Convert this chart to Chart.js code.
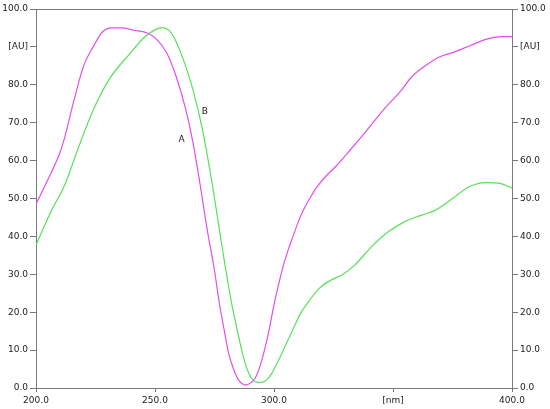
<!DOCTYPE html>
<html>
<head>
<meta charset="utf-8">
<script src="https://cdn.jsdelivr.net/npm/chart.js@4.4.1/dist/chart.umd.min.js"></script>
<style>
    html, body { margin: 0; padding: 0; background: #fff; }
    #wrap { width: 550px; height: 409px; }
</style>
</head>
<body>
<div id="wrap"><canvas id="spectrum"></canvas></div>
<script>
// wavelength [nm] / absorbance [AU]
const waveA = [200, 205, 210, 212, 216, 220, 224, 228, 232, 236, 241, 247, 251, 255, 259, 263, 266, 269, 272, 275, 277, 279, 281, 283, 285, 287, 288.5, 290, 292, 294, 296, 298, 300, 302, 304, 306, 308, 310, 312, 315, 318, 322, 326, 332, 339, 346, 353, 358, 364, 369, 376, 383, 390, 396, 400];
const valuesA = [48.5, 55, 62, 66, 76, 85, 90, 94, 95, 95, 94.4, 93.6, 91.8, 88.3, 82, 73.3, 64.6, 53.5, 41.5, 31, 22.5, 15.5, 9, 5, 2.2, 1.0, 0.8, 1.3, 2.5, 5.5, 10, 15.5, 22, 27.5, 32.5, 36.5, 40, 43.5, 46.5, 50, 53, 56, 58.5, 62.8, 68, 73.4, 78.2, 82.2, 85.2, 87.2, 88.7, 90.5, 92.2, 92.7, 92.7];

const waveB = [200, 206, 212, 218, 224, 231, 239, 246, 250, 253, 256, 258, 262, 266, 270, 274, 278, 282, 285, 287, 289, 291, 293, 295, 297, 299, 302, 305, 308, 311, 315, 319, 324, 329, 334, 341, 348, 355, 362, 368, 375, 382, 389, 395, 400];
const valuesB = [37.7, 46.2, 53.5, 63.7, 73.3, 81.7, 87.9, 92.8, 94.5, 95.1, 94.3, 92.5, 86.5, 78.6, 68, 54, 38, 23, 14, 8.5, 4.5, 2.2, 1.5, 1.5, 2.2, 3.8, 7.4, 11.5, 15.5, 19.5, 23.2, 26.3, 28.5, 30, 32.5, 37.3, 41.2, 43.9, 45.6, 47, 50, 53.1, 54.2, 54, 52.8];

const peakLabels = ['A', 'B'];
const peakLabelX = [261.2, 270.9];
const peakLabelY = [65.4, 72.8];

const xTicks = [200, 250, 300, 350, 400];
const yTicks = [0, 10, 20, 30, 40, 50, 60, 70, 80, 90, 100];

const axisColor = '#7a7a7a';
const textColor = '#1a1a1a';
const fontSpec = { family: 'DejaVu Sans', size: 9 };

function toPoints(xs, ys) {
    return xs.map(function (x, i) { return { x: x, y: ys[i] }; });
}

function yLabel(value) {
    return value === 90 ? '[AU]' : value.toFixed(1);
}

const peakNames = {
    id: 'peakNames',
    afterDatasetsDraw: function (chart) {
        const ctx = chart.ctx;
        ctx.save();
        ctx.fillStyle = textColor;
        ctx.font = '9px "DejaVu Sans"';
        ctx.textAlign = 'center';
        ctx.textBaseline = 'middle';
        peakLabels.forEach(function (name, i) {
            ctx.fillText(name,
                chart.scales.x.getPixelForValue(peakLabelX[i]),
                chart.scales.y.getPixelForValue(peakLabelY[i]));
        });
        ctx.restore();
    }
};

const yAxis = function (position, width) {
    return {
        type: 'linear',
        position: position,
        min: 0,
        max: 100,
        afterBuildTicks: function (scale) {
            scale.ticks = yTicks.map(function (v) { return { value: v }; });
        },
        afterFit: function (scale) { scale.width = width; },
        grid: {
            display: true,
            drawOnChartArea: false,
            drawTicks: true,
            tickLength: 6,
            color: axisColor
        },
        border: { display: true, color: axisColor, width: 1 },
        ticks: {
            color: textColor,
            font: fontSpec,
            padding: 2,
            callback: yLabel
        }
    };
};

new Chart(document.getElementById('spectrum'), {
    type: 'line',
    data: {
        datasets: [
            {
                label: 'A',
                data: toPoints(waveA, valuesA),
                borderColor: '#e050e8',
                borderWidth: 1.2,
                pointRadius: 0,
                cubicInterpolationMode: 'monotone',
                fill: false
            },
            {
                label: 'B',
                data: toPoints(waveB, valuesB),
                borderColor: '#58e058',
                borderWidth: 1.2,
                pointRadius: 0,
                cubicInterpolationMode: 'monotone',
                fill: false
            }
        ]
    },
    options: {
        responsive: true,
        maintainAspectRatio: false,
        animation: false,
        layout: { padding: { top: 9, left: 0, right: 0, bottom: 0 } },
        plugins: {
            legend: { display: false },
            tooltip: { enabled: false }
        },
        scales: {
            x: {
                type: 'linear',
                position: 'bottom',
                min: 200,
                max: 400,
                afterBuildTicks: function (scale) {
                    scale.ticks = xTicks.map(function (v) { return { value: v }; });
                },
                afterFit: function (scale) { scale.height = 21; },
                grid: {
                    display: true,
                    drawOnChartArea: false,
                    drawTicks: true,
                    tickLength: 4,
                    color: axisColor
                },
                border: { display: true, color: axisColor, width: 1 },
                ticks: {
                    color: textColor,
                    font: fontSpec,
                    padding: 3,
                    maxRotation: 0,
                    callback: function (value) {
                        return value === 350 ? '[nm]' : value.toFixed(1);
                    }
                }
            },
            xTop: {
                type: 'linear',
                position: 'top',
                min: 200,
                max: 400,
                afterFit: function (scale) { scale.height = 0; },
                grid: { display: false },
                border: { display: true, color: axisColor, width: 1 },
                ticks: { display: false }
            },
            y: yAxis('left', 36),
            y2: yAxis('right', 38)
        }
    },
    plugins: [peakNames]
});
</script>
</body>
</html>
